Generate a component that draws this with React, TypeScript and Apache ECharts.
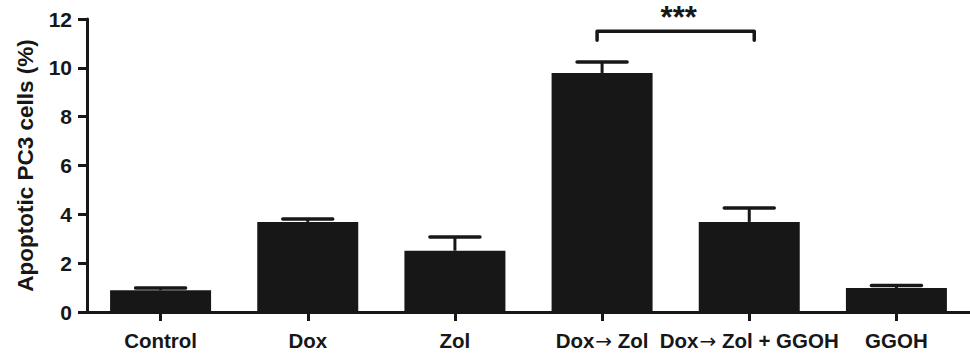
import React, { useEffect, useRef } from "react";
import * as echarts from "echarts";

const categories = ["Control", "Dox", "Zol", "Dox\u2192 Zol", "Dox\u2192 Zol + GGOH", "GGOH"];
const means = [0.89, 3.69, 2.51, 9.79, 3.69, 0.98];
const errors = [0.09, 0.12, 0.56, 0.45, 0.57, 0.11];
const yTicks = [0, 2, 4, 6, 8, 10, 12];
const significance = [{ from: 3, to: 4, level: 11.5, label: "***" }];

const INK = "#171717";
const FONT = "'Liberation Sans', Arial, Helvetica, sans-serif";

export default function App() {
  const ref = useRef<HTMLDivElement>(null);
  useEffect(() => {
    document.body.style.margin = "0";
    if (!ref.current) return;
    const chart = echarts.init(ref.current, undefined, { renderer: "svg" });
    const errData = means.map((m, i) => [i, m, m + errors[i]]);
    const sigData = significance.map((s) => [s.from, s.to, s.level]);
    chart.setOption({
      animation: false,
      backgroundColor: "#ffffff",
      grid: { left: 87, top: 19, width: 890, height: 293 },
      xAxis: {
        type: "category",
        data: categories,
        axisLine: { lineStyle: { color: INK, width: 3 } },
        axisTick: { show: true, alignWithLabel: true, length: 9, lineStyle: { color: INK, width: 3 } },
        axisLabel: {
          interval: 0,
          margin: 15,
          fontFamily: FONT,
          fontWeight: "bold",
          fontSize: 20.5,
          color: INK,
          formatter: (v: string) => {
            const parts = v.split("\u2192");
            if (parts.length === 1) return "{t|" + v + "}";
            return "{t|" + parts[0] + "}{a|\u2192}{t|" + parts[1] + "}";
          },
          rich: {
            t: { fontFamily: FONT, fontWeight: "bold", fontSize: 20.5, color: INK, lineHeight: 24, verticalAlign: "bottom" },
            a: { fontFamily: "'DejaVu Sans', sans-serif", fontWeight: "normal", fontSize: 20, color: INK, lineHeight: 24, verticalAlign: "bottom", padding: [0, 0, 0, 1] },
          },
        },
      },
      yAxis: {
        type: "value",
        min: yTicks[0],
        max: yTicks[yTicks.length - 1],
        interval: 2,
        name: "Apoptotic PC3 cells (%)",
        nameLocation: "middle",
        nameRotate: 90,
        nameGap: 50,
        nameTextStyle: { fontFamily: FONT, fontWeight: "bold", fontSize: 22.5, color: INK },
        axisLine: { show: true, lineStyle: { color: INK, width: 3 } },
        axisTick: { show: true, length: 9, lineStyle: { color: INK, width: 3 } },
        axisLabel: { margin: 15, fontFamily: FONT, fontWeight: "bold", fontSize: 21, color: INK },
        splitLine: { show: false },
      },
      series: [
        {
          type: "bar",
          data: means,
          barWidth: 101,
          itemStyle: { color: INK },
          z: 2,
        },
        {
          type: "custom",
          data: errData,
          z: 3,
          renderItem: (params: any, api: any) => {
            const i = api.value(0);
            const base = api.coord([i, api.value(1)]);
            const top = api.coord([i, api.value(2)]);
            const half = 25;
            return {
              type: "group",
              children: [
                {
                  type: "line",
                  shape: { x1: base[0], y1: base[1], x2: top[0], y2: top[1] },
                  style: { stroke: INK, lineWidth: 3 },
                },
                {
                  type: "line",
                  shape: { x1: top[0] - half, y1: top[1], x2: top[0] + half, y2: top[1] },
                  style: { stroke: INK, lineWidth: 3.5, lineCap: "round" },
                },
              ],
            };
          },
        },
        {
          type: "custom",
          data: sigData,
          z: 4,
          renderItem: (params: any, api: any) => {
            const a = api.coord([api.value(0), api.value(2)]);
            const b = api.coord([api.value(1), api.value(2)]);
            const x1 = a[0] - 5;
            const x2 = b[0] + 5;
            const y = a[1];
            return {
              type: "group",
              children: [
                {
                  type: "polyline",
                  shape: { points: [[x1, y + 9], [x1, y], [x2, y], [x2, y + 9]] },
                  style: { stroke: INK, lineWidth: 3.5, fill: "none", lineJoin: "round", lineCap: "round" },
                },
                {
                  type: "text",
                  x: (x1 + x2) / 2 + 3,
                  y: y - 14,
                  style: {
                    text: significance[params.dataIndex].label,
                    fontFamily: FONT,
                    fontWeight: "bold",
                    fontSize: 31,
                    fill: INK,
                    align: "center",
                    verticalAlign: "middle",
                  },
                },
              ],
            };
          },
        },
      ],
    });
    return () => chart.dispose();
  }, []);
  return <div ref={ref} style={{ width: 970, height: 354 }} />;
}
